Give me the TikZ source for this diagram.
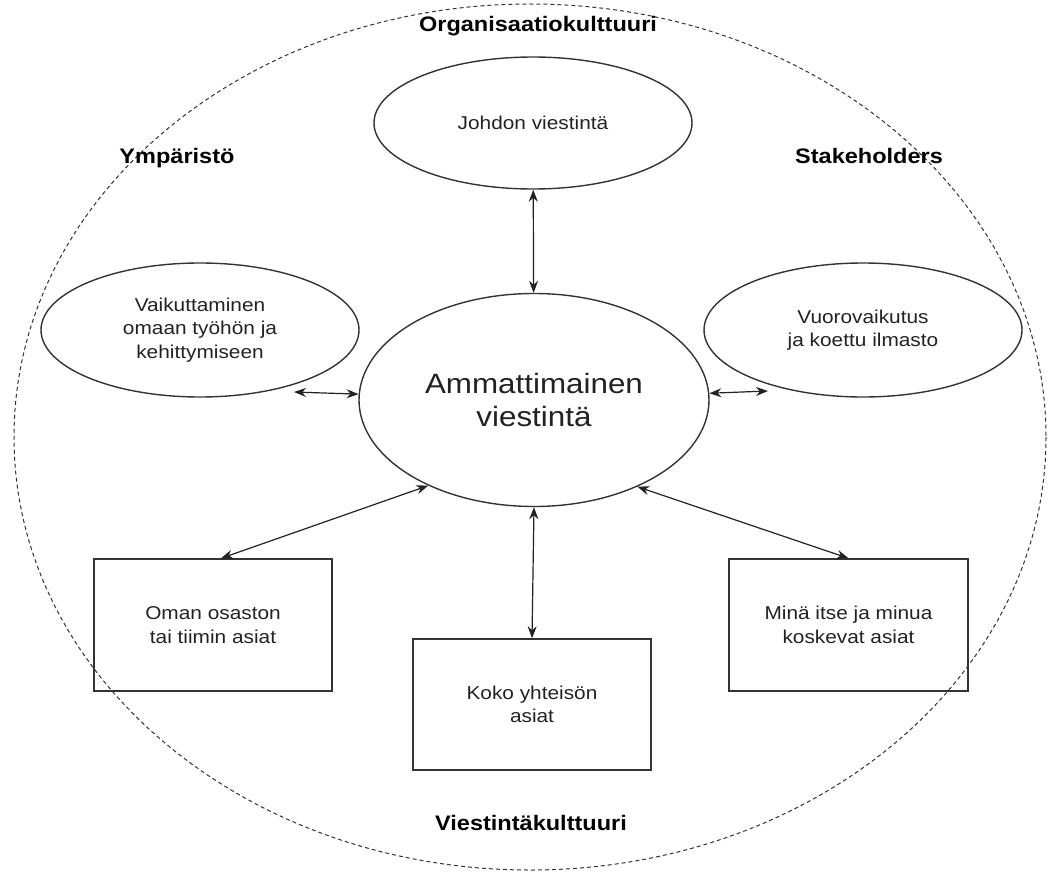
\documentclass[tikz,border=0pt]{standalone}
\usepackage{fontspec}
\setmainfont{Liberation Sans}[FakeStretch=1.12]
\usepackage{tikz}
\usetikzlibrary{positioning,arrows.meta,shapes.geometric}
\definecolor{ink}{HTML}{222222}
\definecolor{rim}{HTML}{333333}

\begin{document}
\begin{tikzpicture}[x=1pt, y=-1pt,
  small/.style={font=\fontsize{18.6}{23.5}\selectfont, text=ink, align=center},
  big/.style={font=\fontsize{28}{33}\selectfont, text=ink, align=center},
  oval/.style={ellipse, draw=rim, line width=1.4pt, inner sep=0pt},
  card/.style={rectangle, draw=rim, line width=1.4pt, inner sep=0pt},
  zone/.style={font=\bfseries\fontsize{21}{25}\selectfont, anchor=base},
  link/.style={{Stealth[length=12pt,width=9pt]}-{Stealth[length=12pt,width=9pt]}, draw=ink, line width=1.2pt}]
\useasboundingbox (0,0) rectangle (1049,872);
\draw[rim, line width=1pt, dash pattern=on 4pt off 3pt] (530,437) ellipse [x radius=516, y radius=433];
% outer labels
\node[zone] (org) at (538,32){Organisaatiokulttuuri};
\node[zone] (ymp) at (177,163){Ympäristö};
\node[zone] (stake) at (869,163){Stakeholders};
\node[zone] (vkult) at (531,830){Viestintäkulttuuri};
% ellipses
\node[oval, small, minimum width=318, minimum height=132] (johdon) at (533,123){Johdon viestintä};
\node[oval, big, minimum width=350, minimum height=213] (amm) at (534,400){Ammattimainen\\viestintä};
\node[oval, small, minimum width=318, minimum height=134] (vaik) at (200,330){Vaikuttaminen\\omaan työhön ja\\kehittymiseen};
\node[oval, small, minimum width=318, minimum height=134] (vuoro) at (863,330){Vuorovaikutus\\ja koettu ilmasto};
% boxes
\node[card, small, minimum width=238, minimum height=132] (oman) at (213,625){Oman osaston\\tai tiimin asiat};
\node[card, small, minimum width=238, minimum height=131] (koko) at (532,704.5){Koko yhteisön\\asiat};
\node[card, small, minimum width=239, minimum height=132] (mina) at (848.5,625){Minä itse ja minua\\koskevat asiat};
% connectors
\coordinate (vaiktip) at (294,392);
\coordinate (vuorotip) at (768,391);
\draw[link] (johdon) -- (amm);
\draw[link] (vaiktip) -- (amm);
\draw[link] (amm) -- (vuorotip);
\draw[link] (amm.219) -- ([xshift=8]oman.north);
\draw[link] (amm.south) -- (koko.north);
\draw[link] (amm.320) -- (mina.north);
\end{tikzpicture}
\end{document}
